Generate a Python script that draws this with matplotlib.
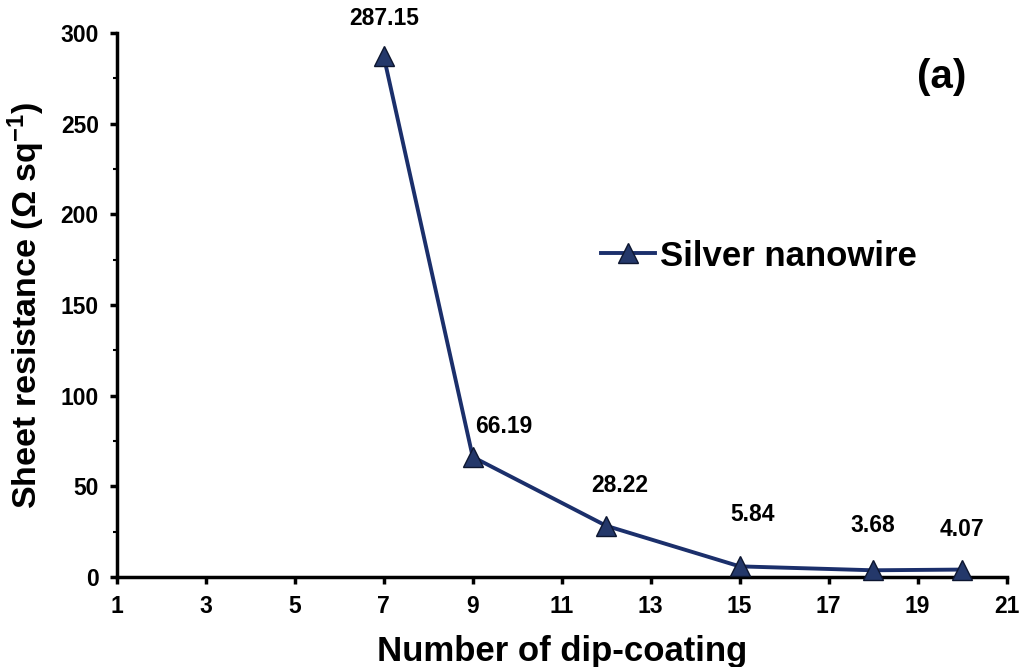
import matplotlib
matplotlib.use("Agg")
import matplotlib.pyplot as plt
from matplotlib.ticker import MultipleLocator

plt.rcParams['font.family'] = ['Liberation Sans', 'DejaVu Sans']
plt.rcParams['font.weight'] = 'bold'
plt.rcParams['mathtext.default'] = 'regular'

coatings = [7, 9, 12, 15, 18, 20]
resistance = [287.15, 66.19, 28.22, 5.84, 3.68, 4.07]
value_labels = ["287.15", "66.19", "28.22", "5.84", "3.68", "4.07"]
label_offsets = [(0, 27), (22, 22), (10, 29), (9, 37), (0, 32), (0, 29)]
x_ticks = [1, 3, 5, 7, 9, 11, 13, 15, 17, 19, 21]
y_ticks = [0, 50, 100, 150, 200, 250, 300]

fig = plt.figure(figsize=(10.25, 6.67), dpi=100)
ax = fig.add_axes([0.114, 0.135, 0.868, 0.8155])

line_color = '#1b2f6b'
ax.plot(coatings, resistance, color=line_color, lw=2.8, marker='^',
        markersize=14, markerfacecolor='#24386a', markeredgecolor='#0d1630',
        markeredgewidth=1.0, label='Silver nanowire', clip_on=False, zorder=3)

for x, y, txt, off in zip(coatings, resistance, value_labels, label_offsets):
    ax.annotate(txt, (x, y), xytext=off, textcoords='offset points',
                ha='center', va='center', fontsize=16.5, fontweight='bold')

ax.set_xlim(1, 21)
ax.set_ylim(0, 300)
ax.set_xticks(x_ticks)
ax.set_yticks(y_ticks)
ax.yaxis.set_minor_locator(MultipleLocator(25))

for s in ['top', 'right']:
    ax.spines[s].set_visible(False)
for s in ['left', 'bottom']:
    ax.spines[s].set_linewidth(2.5)

ax.tick_params(axis='both', which='major', direction='out', length=5, width=2.5,
               labelsize=16.5)
ax.tick_params(axis='x', which='major', pad=8)
ax.tick_params(axis='y', which='major', pad=8)
ax.tick_params(axis='y', which='minor', direction='out', length=3, width=1.5)
for lab in ax.get_xticklabels() + ax.get_yticklabels():
    lab.set_fontweight('bold')

ax.set_xlabel('Number of dip-coating', fontsize=25, fontweight='bold', labelpad=12)
ax.set_ylabel(r'Sheet resistance ($\Omega$ sq$^{-1}$)', fontsize=24.5,
              fontweight='bold', labelpad=10)

ax.text(0.955, 0.92, '(a)', transform=ax.transAxes, fontsize=29,
        fontweight='bold', ha='right', va='center')

leg = ax.legend(loc='center left', bbox_to_anchor=(0.509, 0.59), frameon=False,
                handlelength=1.55, handletextpad=0.15,
                prop={'weight': 'bold', 'size': 25})

fig.savefig('out.png', dpi=100)
